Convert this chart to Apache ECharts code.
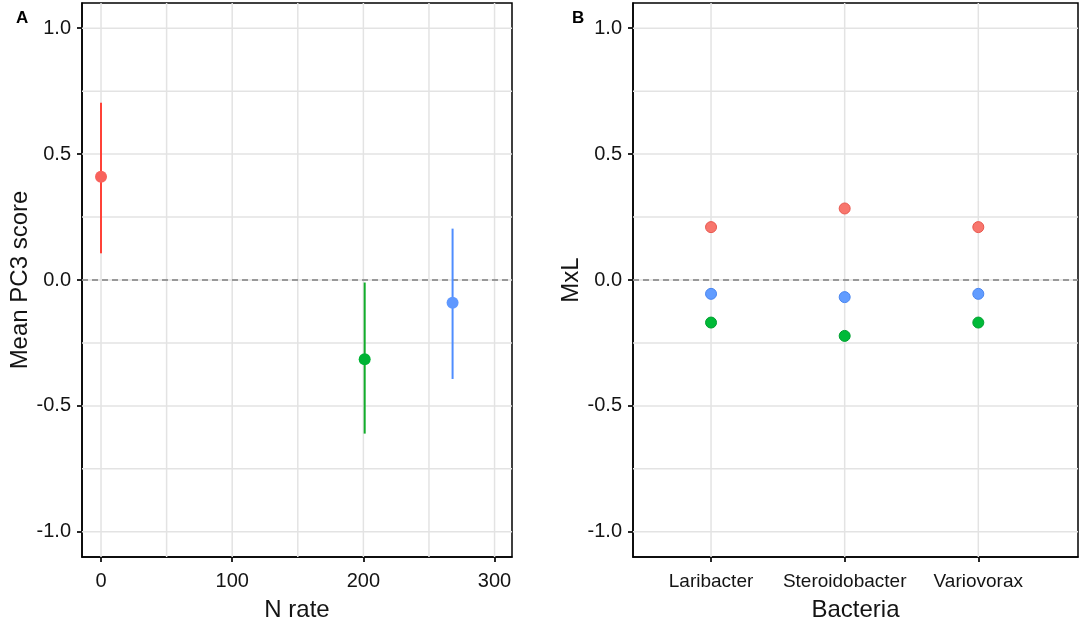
<!DOCTYPE html>
<html>
<head>
<meta charset="utf-8">
<script src="https://cdn.jsdelivr.net/npm/echarts@6/dist/echarts.min.js"></script>
<style>
html,body{margin:0;padding:0;background:#fff;}
#chart{width:1084px;height:621px;}
</style>
</head>
<body>
<div id="chart"></div>
<script>
// ---- Data ----
const nRate = [0, 201, 268];
const meanPC3 = [0.41, -0.315, -0.09];
const lowPC3 = [0.106, -0.61, -0.393];
const highPC3 = [0.704, -0.01, 0.204];

const bacteria = ['Laribacter', 'Steroidobacter', 'Variovorax'];
const mxlRed = [0.21, 0.284, 0.21];
const mxlBlue = [-0.055, -0.068, -0.055];
const mxlGreen = [-0.169, -0.222, -0.169];

const yTicks = [-1.0, -0.5, 0.0, 0.5, 1.0];
const yGrid = [-1.0, -0.75, -0.5, -0.25, 0.0, 0.25, 0.5, 0.75, 1.0];
const xTicksA = [0, 100, 200, 300];
const xGridA = [0, 50, 100, 150, 200, 250, 300];
const xGridB = [1, 2, 3];

// ---- Styles ----
const lineCols = ['#ff4238', '#12ad2b', '#4f8dff'];
const ptCols = ['#f8625c', '#00b334', '#5f98ff'];
const ptColsB = ['#f8766d', '#00ba38', '#619cff'];
const edgeB = ['#e8584f', '#00a030', '#4a86f0'];
const txt = '#141414';
const font = 'Liberation Sans, Arial, sans-serif';

const chart = echarts.init(document.getElementById('chart'), null, {renderer: 'canvas'});

// grid lines as custom series (dir 'v' = vertical at x value, 'h' = horizontal at y value)
function lineSeries(xi, yi, vals, dir, style, z) {
  return {
    type: 'custom', xAxisIndex: xi, yAxisIndex: yi, z: z, silent: true,
    data: vals.map(v => [v]),
    encode: dir === 'v' ? {x: 0} : {y: 0},
    clip: false,
    renderItem: function (params, api) {
      const cs = params.coordSys;
      const v = api.value(0);
      let shape;
      if (dir === 'v') {
        const px = api.coord([v, 0])[0];
        shape = {x1: px, y1: cs.y, x2: px, y2: cs.y + cs.height};
      } else {
        const py = api.coord([0, v])[1];
        shape = {x1: cs.x, y1: py, x2: cs.x + cs.width, y2: py};
      }
      return {type: 'line', shape: shape, style: style};
    }
  };
}
const gridStyle = {stroke: '#e3e3e3', lineWidth: 1.5};
const zeroStyle = {stroke: '#7f7f7f', lineWidth: 1.4, lineDash: [6, 4]};

const series = [
  lineSeries(0, 0, xGridA, 'v', gridStyle, 1),
  lineSeries(0, 0, yGrid, 'h', gridStyle, 1),
  lineSeries(1, 1, xGridB, 'v', gridStyle, 1),
  lineSeries(1, 1, yGrid, 'h', gridStyle, 1),
  lineSeries(0, 0, [0], 'h', zeroStyle, 2),
  lineSeries(1, 1, [0], 'h', zeroStyle, 2)
];

// Panel A error bars + points
nRate.forEach((x, i) => {
  series.push({
    type: 'custom', xAxisIndex: 0, yAxisIndex: 0, z: 3,
    data: [[x, lowPC3[i], highPC3[i]]],
    encode: {x: 0, y: [1, 2]},
    renderItem: function (params, api) {
      const p1 = api.coord([api.value(0), api.value(1)]);
      const p2 = api.coord([api.value(0), api.value(2)]);
      return {type: 'line', shape: {x1: p1[0], y1: p1[1], x2: p2[0], y2: p2[1]},
        style: {stroke: lineCols[i], lineWidth: 2}};
    }
  });
  series.push({
    type: 'scatter', xAxisIndex: 0, yAxisIndex: 0, z: 4,
    symbol: 'circle', symbolSize: 12,
    itemStyle: {color: ptCols[i], opacity: 1},
    data: [[x, meanPC3[i]]]
  });
});

// Panel B points
[mxlRed, mxlGreen, mxlBlue].forEach((arr, g) => {
  series.push({
    type: 'scatter', xAxisIndex: 1, yAxisIndex: 1, z: 4,
    symbol: 'circle', symbolSize: 11,
    itemStyle: {color: ptColsB[g], borderColor: edgeB[g], borderWidth: 1, opacity: 1},
    data: arr.map((v, k) => [k + 1, v])
  });
});

function yAxisDef(gi, name) {
  return {
    type: 'value', gridIndex: gi, min: -1.1, max: 1.1,
    name: name, nameLocation: 'middle', nameGap: 50, nameRotate: 90,
    nameTextStyle: {fontSize: 24, color: txt, fontFamily: font},
    axisLine: {show: true, onZero: false, lineStyle: {color: '#000', width: 1.5}},
    axisTick: {show: true, length: 5, lineStyle: {color: '#111', width: 1.8}, customValues: yTicks},
    axisLabel: {fontSize: 20, color: txt, fontFamily: font, margin: 11, customValues: yTicks,
      formatter: v => v.toFixed(1)},
    splitLine: {show: false}
  };
}

const option = {
  animation: false,
  backgroundColor: '#fff',
  title: [
    {text: 'A', left: 11, top: 5, textStyle: {fontSize: 17, fontWeight: 'bold', color: '#000', fontFamily: font}},
    {text: 'B', left: 567, top: 5, textStyle: {fontSize: 17, fontWeight: 'bold', color: '#000', fontFamily: font}}
  ],
  grid: [
    {left: 82, right: 572, top: 3, bottom: 64, show: true, borderColor: '#000', borderWidth: 1.5,
      backgroundColor: '#fff', containLabel: false, outerBoundsMode: 'none'},
    {left: 633, right: 6, top: 3, bottom: 64, show: true, borderColor: '#000', borderWidth: 1.5,
      backgroundColor: '#fff', containLabel: false, outerBoundsMode: 'none'}
  ],
  xAxis: [
    {
      type: 'value', gridIndex: 0, min: -14.5, max: 313.3,
      name: 'N rate', nameLocation: 'middle', nameGap: 41,
      nameTextStyle: {fontSize: 24, color: txt, fontFamily: font},
      axisLine: {show: true, onZero: false, lineStyle: {color: '#000', width: 1.5}},
      axisTick: {show: true, length: 5, lineStyle: {color: '#111', width: 1.8}, customValues: xTicksA},
      axisLabel: {fontSize: 20, color: txt, fontFamily: font, margin: 14, customValues: xTicksA},
      splitLine: {show: false}
    },
    {
      type: 'value', gridIndex: 1, min: 0.416, max: 3.746,
      name: 'Bacteria', nameLocation: 'middle', nameGap: 41,
      nameTextStyle: {fontSize: 24, color: txt, fontFamily: font},
      axisLine: {show: true, onZero: false, lineStyle: {color: '#000', width: 1.5}},
      axisTick: {show: true, length: 5, lineStyle: {color: '#111', width: 1.8}, customValues: xGridB},
      axisLabel: {fontSize: 19, color: txt, fontFamily: font, margin: 15, customValues: xGridB,
        formatter: v => bacteria[Math.round(v) - 1] || ''},
      splitLine: {show: false}
    }
  ],
  yAxis: [yAxisDef(0, 'Mean PC3 score'), yAxisDef(1, 'MxL')],
  series: series
};
chart.setOption(option);
</script>
</body>
</html>
